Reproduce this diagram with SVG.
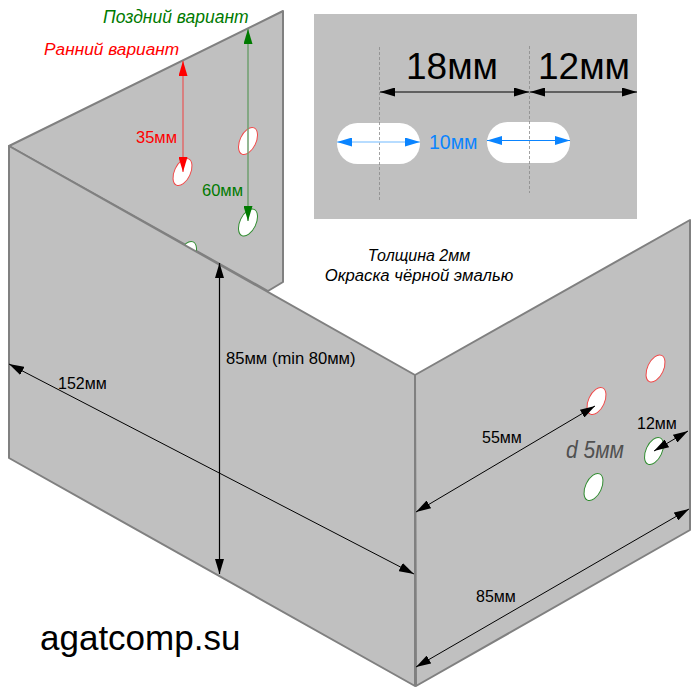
<svg xmlns="http://www.w3.org/2000/svg" width="700" height="700" viewBox="0 0 700 700">
<style>
.p{fill:#c0c0c0;stroke:#808080;stroke-width:2;stroke-linejoin:round}
text{font-family:"Liberation Sans",Arial,sans-serif}
.hr{fill:#fff;stroke:#f04848;stroke-width:1}
.hg{fill:#fff;stroke:#2e8b2e;stroke-width:1}
.k{stroke:#000;stroke-width:1;fill:none}
.slot{fill:#fff}
.c{fill:none;stroke:#8a8a8a;stroke-width:.8;stroke-dasharray:3 2}
</style>
<defs>
<marker id="ak" viewBox="0 0 15 9" refX="15" refY="4.500" markerWidth="15" markerHeight="9" markerUnits="userSpaceOnUse" orient="auto-start-reverse"><path d="M0 0L15 4.500L0 9z" fill="#000"/></marker>
<marker id="ar" viewBox="0 0 15 9" refX="15" refY="4.500" markerWidth="15" markerHeight="9" markerUnits="userSpaceOnUse" orient="auto-start-reverse"><path d="M0 0L15 4.500L0 9z" fill="#f00"/></marker>
<marker id="ag" viewBox="0 0 15 9" refX="15" refY="4.500" markerWidth="15" markerHeight="9" markerUnits="userSpaceOnUse" orient="auto-start-reverse"><path d="M0 0L15 4.500L0 9z" fill="#007a00"/></marker>
<marker id="ab" viewBox="0 0 15 9" refX="15" refY="4.500" markerWidth="15" markerHeight="9" markerUnits="userSpaceOnUse" orient="auto-start-reverse"><path d="M0 0L15 4.500L0 9z" fill="#0a84ff"/></marker>
</defs>
<g id="back-panel">
<polygon class="p" points="9,146 283,11 283,282 268,291"/>
<ellipse class="hr" cx="182.500" cy="172" rx="8" ry="14.500" transform="rotate(25 182.500 172)"/>
<ellipse class="hr" cx="248" cy="141" rx="8" ry="14.500" transform="rotate(25 248 141)"/>
<ellipse class="hg" cx="248" cy="222.500" rx="8" ry="14.500" transform="rotate(25 248 222.500)"/>
<ellipse class="hg" cx="187" cy="255" rx="8" ry="14.500" transform="rotate(25 187 255)"/>
</g>
<g id="front-panel"><polygon class="p" points="9,146 415,375 415,686 9,458"/></g>
<g id="right-panel">
<polygon class="p" points="415,375 690,220 690,530 416,686"/>
<ellipse class="hr" cx="596.500" cy="401" rx="8" ry="14.500" transform="rotate(25 596.500 401)"/>
<ellipse class="hr" cx="655.500" cy="368.500" rx="8" ry="14.500" transform="rotate(25 655.500 368.500)"/>
<ellipse class="hg" cx="654" cy="451" rx="8" ry="14.500" transform="rotate(25 654 451)"/>
<ellipse class="hg" cx="593.500" cy="487" rx="8" ry="14.500" transform="rotate(25 593.500 487)"/>
</g>
<g id="detail-panel">
<rect x="314" y="14" width="323" height="205" fill="#c0c0c0"/>
<rect class="slot" x="337" y="123" width="83" height="41" rx="20.500"/>
<rect class="slot" x="487" y="122" width="83" height="41" rx="20.500"/>
<path class="c" d="M379.500 47V200M529.500 46V193"/>
</g>
<g id="connectors">
<path d="M183 61V172" stroke="#f04040" fill="none" marker-start="url(#ar)" marker-end="url(#ar)"/>
<path d="M248 29V221" stroke="#6f9f6f" stroke-width="1.500" fill="none" marker-start="url(#ag)" marker-end="url(#ag)"/>
<path class="k" d="M219.500 263V574" marker-start="url(#ak)" marker-end="url(#ak)" style="stroke-width:1.200"/>
<path class="k" d="M9 364L414 574" marker-start="url(#ak)" marker-end="url(#ak)"/>
<path class="k" d="M416 512L595 406" marker-start="url(#ak)" marker-end="url(#ak)"/>
<path class="k" d="M654 451L688 431" marker-start="url(#ak)" marker-end="url(#ak)"/>
<path class="k" d="M416 667L689 509" marker-start="url(#ak)" marker-end="url(#ak)"/>
<path class="k" d="M380 92L529 92" marker-start="url(#ak)" marker-end="url(#ak)"/>
<path class="k" d="M530 92L637 92" marker-start="url(#ak)" marker-end="url(#ak)"/>
<path d="M337 142H420" stroke="#9fd0ff" stroke-width="1.500" fill="none" marker-start="url(#ab)" marker-end="url(#ab)"/>
<path d="M487 140.500H570" stroke="#0a84ff" stroke-width="1" fill="none" marker-start="url(#ab)" marker-end="url(#ab)"/>
</g>
<g id="labels">
<text x="103" y="23" font-size="17.500" font-style="italic" fill="#007a00">Поздний вариант</text>
<text x="44" y="55" font-size="17.300" font-style="italic" fill="#f00">Ранний вариант</text>
<text x="136" y="143" font-size="16.500" fill="#f00">35мм</text>
<text x="202" y="196" font-size="16.500" fill="#007a00">60мм</text>
<text x="226" y="364" font-size="16.600" fill="#000">85мм (min 80мм)</text>
<text x="58" y="389" font-size="16" fill="#000">152мм</text>
<text x="482" y="443" font-size="16" fill="#000">55мм</text>
<text x="637" y="429" font-size="16" fill="#000">12мм</text>
<text x="476" y="602" font-size="16" fill="#000">85мм</text>
<text x="566" y="458" font-size="24" font-style="italic" fill="#505050" textLength="58" lengthAdjust="spacingAndGlyphs">d 5мм</text>
<text x="406" y="79" font-size="37" fill="#000">18мм</text>
<text x="538" y="79" font-size="37" fill="#000">12мм</text>
<text x="429" y="149" font-size="19.500" fill="#0a84ff">10мм</text>
<text x="419" y="261" font-size="16" font-style="italic" text-anchor="middle" fill="#000">Толщина 2мм</text>
<text x="419" y="281" font-size="16.700" font-style="italic" text-anchor="middle" fill="#000">Окраска чёрной эмалью</text>
<text x="40" y="650" font-size="35" fill="#000">agatcomp.su</text>
</g>
</svg>
